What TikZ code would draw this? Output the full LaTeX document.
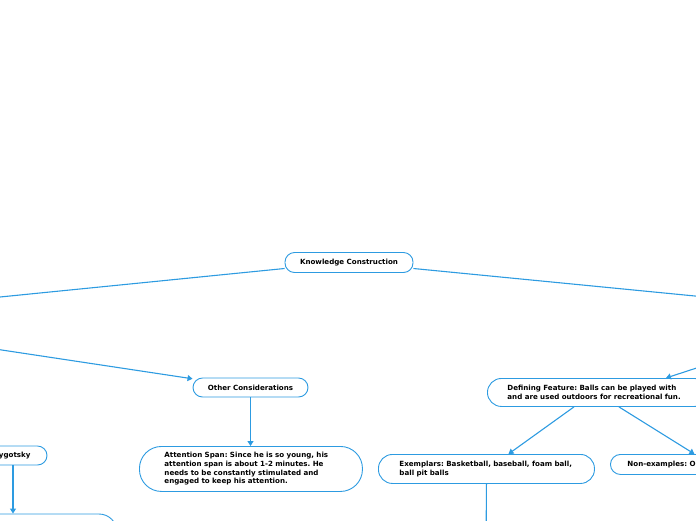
\documentclass[tikz,border=0pt]{standalone}
\usepackage{fontspec}
\setmainfont{DejaVu Sans}
\usetikzlibrary{arrows.meta,positioning}
\frenchspacing

\definecolor{mapblue}{RGB}{45,155,225}

\tikzset{
    topic/.style={draw=mapblue, line width=0.9pt, fill=white, rounded corners=9.5pt,
        font=\fontsize{7.1}{8.7}\selectfont\bfseries, minimum height=19pt, inner xsep=10pt},
    detail/.style={topic, align=left, anchor=north west},
    link/.style={draw=mapblue, line width=1.1pt},
    arr/.style={link, -{Triangle[width=6pt,length=5pt]}}
}

\begin{document}
\begin{tikzpicture}[x=1pt,y=-1pt]
    \useasboundingbox (0,0) rectangle (696,520);
    \clip (0,0) rectangle (696,520);

    % main topic
    \node[topic, minimum width=128pt, minimum height=20pt] (root) at (349,262.5) {Knowledge Construction};

    % left branch
    \node[topic, minimum width=115pt] (other) at (250.5,387.5) {Other Considerations};
    \node[detail, text width=173pt, inner xsep=25pt, minimum height=45pt, rounded corners=22pt]
        (attn) at (139,446) {Attention Span: Since he is so young, his\\attention span is about 1-2 minutes. He\\needs to be constantly stimulated and\\engaged to keep his attention.};
    \node[topic, minimum width=70pt] (vyg) at (12,455.5) {Vygotsky};
    \node[topic, minimum width=160pt, minimum height=40pt, rounded corners=18pt] (vygnext) at (37,534) {};

    % right branch
    \node[detail, text width=181pt, inner xsep=20pt, minimum height=28pt, rounded corners=14pt]
        (define) at (487,378) {Defining Feature: Balls can be played with\\and are used outdoors for recreational fun.};
    \node[detail, text width=174pt, inner xsep=21pt, minimum height=29pt, rounded corners=14pt]
        (exemp) at (378,454) {Exemplars: Basketball, baseball, foam ball,\\ball pit balls};
    \node[detail, text width=150pt, inner xsep=17pt, minimum height=20pt, rounded corners=10pt]
        (nonex) at (610,454) {Non-examples: Or};

    % off-page ends
    \coordinate (leftmain) at (-40,301);
    \coordinate (rightmain) at (740,300.4);
    \coordinate (leftsub) at (-40,343.7);
    \coordinate (rightsub) at (740,353.8);
    \coordinate (exnext) at (486,560);

    % connectors
    \draw[link] ([yshift=-6pt]root.west) -- (leftmain);
    \draw[link] ([yshift=-6pt]root.east) -- (rightmain);
    \draw[arr] (leftsub) -- (other);
    \draw[arr] (other) -- (other |- attn.north);
    \draw[arr] (vyg.south -| 13,0) -- (vygnext.north -| 13,0);
    \draw[arr] (rightsub) -- ([xshift=68pt]define.north);
    \draw[arr] ([xshift=-24pt]define.south) -- ([xshift=22pt]exemp.north);
    \draw[arr] ([xshift=21pt]define.south) -- ([xshift=-8pt]nonex.north);
    \draw[arr] (exemp.south) -- (exnext);
\end{tikzpicture}
\end{document}
